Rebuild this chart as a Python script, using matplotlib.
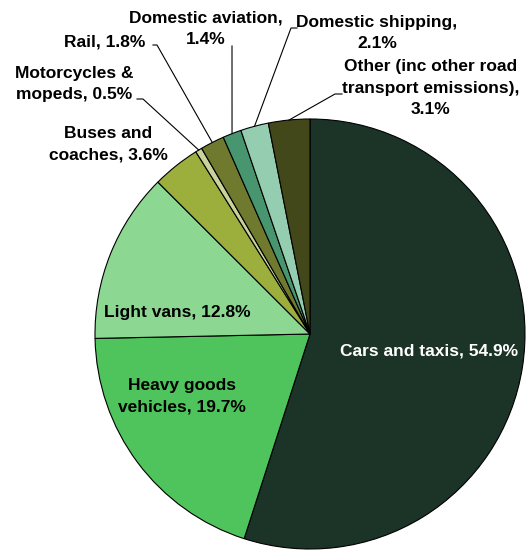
import numpy as np
import matplotlib.pyplot as plt

plt.rcParams["font.family"] = ["Liberation Sans", "DejaVu Sans"]
plt.rcParams["font.weight"] = "bold"

# Data
labels = ["Cars and taxis", "Heavy goods\nvehicles", "Light vans", "Buses and\ncoaches",
          "Motorcycles &\nmopeds", "Rail", "Domestic aviation,\n", "Domestic shipping,\n",
          "Other (inc other road\ntransport emissions),\n"]
shares = [54.9, 19.7, 12.8, 3.6, 0.5, 1.8, 1.4, 2.1, 3.1]
colors = ["#1c3327", "#4fc35c", "#8cd892", "#9cae3c", "#c9d49c",
          "#6f7a2e", "#48966f", "#95cdb1", "#43481a"]

W, H = 528, 551


def Y(py):
    return H - py


fig = plt.figure(figsize=(W / 100, H / 100), dpi=100)
ax = fig.add_axes([0, 0, 1, 1])

cx, cy, r = 310, Y(334), 215
wedges, _ = ax.pie(shares, colors=colors, startangle=90, counterclock=False,
                   center=(cx, cy), radius=r,
                   wedgeprops=dict(edgecolor="black", linewidth=0.8))
ax.set_xlim(0, W)
ax.set_ylim(0, H)
ax.set_aspect("equal")
ax.axis("off")


def text_for(i):
    name = labels[i]
    pct = f"{shares[i]}%"
    if name.endswith("\n"):
        return name + pct
    return f"{name}, {pct}"


fs = 12.5
lh = 21.5  # line height in pixels


def put(x, y, s, **kw):
    # one text per line, centred round y
    lines = s.split("\n")
    y0 = y - lh * (len(lines) - 1) / 2
    for k, line in enumerate(lines):
        ax.text(x, Y(y0 + k * lh), line, fontsize=fs, ha="center", va="center", **kw)


# labels inside the pie
put(429, 351, text_for(0), color="white")
put(182, 396, text_for(1))
put(177, 313, text_for(2))

# outside labels: (text centre, line start, elbow)
outside = {
    3: ((108, 144), None, None),
    4: ((74, 84), (137, 99), (143, 99)),
    5: ((105, 42), (153, 45), (157, 45)),
    6: ((206, 29), (232, 46), (232, 47)),
    7: ((377, 33), (297, 28), (291, 28)),
    8: ((431, 88), (342, 94), (335, 94)),
}
for i, (tpos, p0, p1) in outside.items():
    put(tpos[0], tpos[1], text_for(i))
    if p0 is None:
        continue
    w = wedges[i]
    th = np.deg2rad((w.theta1 + w.theta2) / 2)
    ex, ey = cx + r * np.cos(th), cy + r * np.sin(th)
    ax.plot([p0[0], p1[0], ex], [Y(p0[1]), Y(p1[1]), ey], color="black", lw=0.8)

fig.savefig("out.png", dpi=100)
